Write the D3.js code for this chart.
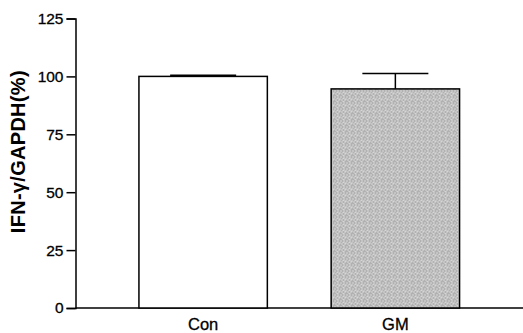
<!DOCTYPE html>
<html>
<head>
<meta charset="utf-8">
<script src="https://cdn.jsdelivr.net/npm/d3@7"></script>
<style>
body { margin: 0; background: #fff; }
svg { display: block; font-family: "Liberation Sans", Arial, sans-serif; }
</style>
</head>
<body>
<svg id="chart" width="523" height="333"></svg>
<script>
var groups = ["Con", "GM"];
var means = [100, 94.6];
var errors = [0.5, 6.7];
var yTicks = [0, 25, 50, 75, 100, 125];
var yLabel = "IFN-\u03b3/GAPDH(%)";

var margin = {top: 18.5, right: 0, bottom: 25, left: 75.5},
	width = 523 - margin.left - margin.right,
	height = 308 - margin.top;

var svg = d3.select("#chart");

// grainy grey fill like the scanned original
var defs = svg.append("defs");
var pat = defs.append("pattern")
	.attr("id", "grain")
	.attr("width", 6)
	.attr("height", 6)
	.attr("patternUnits", "userSpaceOnUse");
pat.append("rect").attr("width", 6).attr("height", 6).attr("fill", "#d6d6d6");
[[0, 0], [2, 1], [5, 1], [1, 2], [4, 3], [3, 3], [0, 4], [2, 5], [5, 5], [3, 0], [1, 4]].forEach(function(p) {
	pat.append("rect")
		.attr("x", p[0]).attr("y", p[1])
		.attr("width", 1).attr("height", 1)
		.attr("fill", "#8c8c8c");
});

var g = svg.append("g")
	.attr("transform", "translate(" + margin.left + "," + margin.top + ")");

var x = d3.scaleBand()
	.domain(groups)
	.range([0, width])
	.paddingInner(0.332)
	.paddingOuter(0.33);

var y = d3.scaleLinear()
	.domain([0, 125])
	.range([height, 0]);

var yAxis = d3.axisLeft(y)
	.tickValues(yTicks)
	.tickSize(9)
	.tickPadding(3);

var ax = g.append("g")
	.attr("class", "y axis")
	.call(yAxis);
ax.select(".domain").attr("stroke-width", 1.5);
ax.selectAll(".tick line").attr("stroke-width", 1.5);
ax.selectAll(".tick text")
	.style("font-size", "15.5px")
	.attr("fill", "#000")
	.attr("stroke", "#000")
	.attr("stroke-width", 0.3);

// baseline
g.append("line")
	.attr("x1", 0)
	.attr("x2", width)
	.attr("y1", y(0))
	.attr("y2", y(0))
	.attr("stroke", "#000")
	.attr("stroke-width", 1.5);

var bars = g.selectAll(".bar")
	.data(groups)
	.enter().append("g")
	.attr("class", "bar");

bars.append("line")
	.attr("x1", function(d) { return x(d) + x.bandwidth() / 2; })
	.attr("x2", function(d) { return x(d) + x.bandwidth() / 2; })
	.attr("y1", function(d, i) { return y(means[i]); })
	.attr("y2", function(d, i) { return y(means[i] + errors[i]); })
	.attr("stroke", "#000")
	.attr("stroke-width", 1.5);

bars.append("line")
	.attr("x1", function(d) { return x(d) + x.bandwidth() / 2 - 33; })
	.attr("x2", function(d) { return x(d) + x.bandwidth() / 2 + 33; })
	.attr("y1", function(d, i) { return y(means[i] + errors[i]); })
	.attr("y2", function(d, i) { return y(means[i] + errors[i]); })
	.attr("stroke", "#000")
	.attr("stroke-width", 1.5);

bars.append("rect")
	.attr("x", function(d) { return x(d); })
	.attr("width", x.bandwidth())
	.attr("y", function(d, i) { return y(means[i]); })
	.attr("height", function(d, i) { return y(0) - y(means[i]); })
	.attr("fill", function(d, i) { return i == 0 ? "#fff" : "url(#grain)"; })
	.attr("stroke", "#000")
	.attr("stroke-width", 1.5);

g.selectAll(".xlabel")
	.data(groups)
	.enter().append("text")
	.attr("class", "xlabel")
	.attr("x", function(d) { return x(d) + x.bandwidth() / 2; })
	.attr("y", height + 21.5)
	.attr("text-anchor", "middle")
	.style("font-size", "16.5px")
	.attr("fill", "#000")
	.attr("stroke", "#000")
	.attr("stroke-width", 0.3)
	.text(function(d) { return d; });

svg.append("text")
	.attr("transform", "translate(25," + (margin.top + y(67.5)) + ") rotate(-90)")
	.attr("text-anchor", "middle")
	.style("font-size", "20px")
	.style("font-weight", "bold")
	.style("letter-spacing", "0.3px")
	.attr("fill", "#000")
	.text(yLabel);
</script>
</body>
</html>
